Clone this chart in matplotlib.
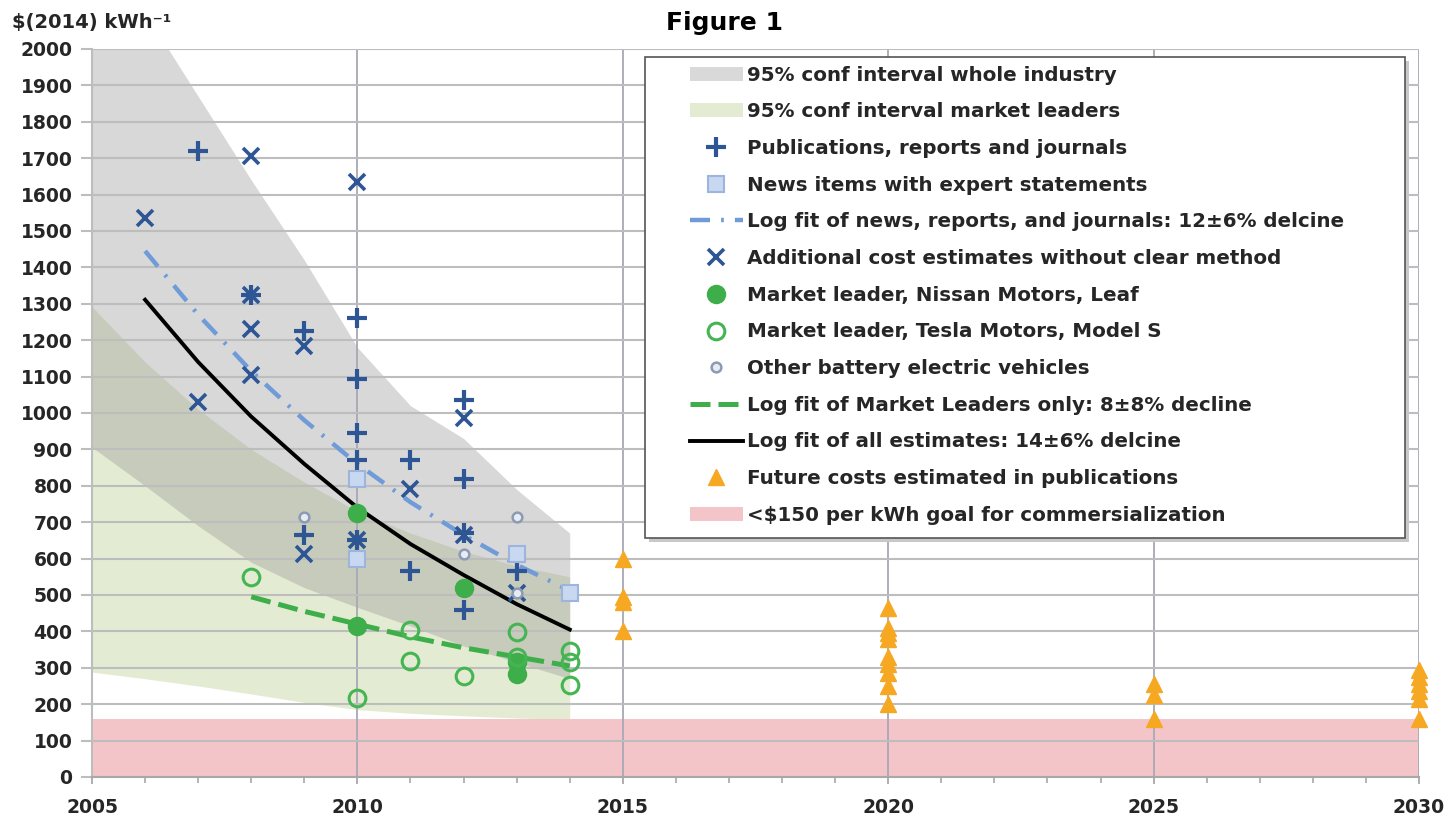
import matplotlib
matplotlib.use("Agg")
import matplotlib.pyplot as plt
import matplotlib.patches as mpatches
from matplotlib.ticker import MultipleLocator

plt.rcParams['font.family'] = ['DejaVu Sans']
plt.rcParams['font.weight'] = 'bold'

# confidence bands
ci_years = [2005, 2006, 2007, 2008, 2009, 2010, 2011, 2012, 2013, 2014]
ind_upper = [2400, 2100, 1870, 1640, 1420, 1180, 1020, 930, 790, 670]
ind_lower = [906, 800, 690, 590, 520, 466, 415, 360, 315, 270]
lead_upper = [1292, 1140, 1010, 900, 810, 730, 670, 620, 580, 550]
lead_lower = [288, 270, 250, 228, 205, 185, 175, 168, 162, 158]

# fitted curves
fit_years = [2006, 2007, 2008, 2009, 2010, 2011, 2012, 2013, 2014]
all_fit = [1311, 1140, 990, 860, 740, 640, 555, 475, 405]
news_fit = [1445, 1270, 1115, 980, 860, 755, 665, 583, 512]
leader_years = [2008, 2009, 2010, 2011, 2012, 2013, 2014]
leader_fit = [495, 455, 420, 385, 355, 330, 305]

# point estimates
pub_x = [2007, 2008, 2009, 2009, 2010, 2010, 2010, 2010, 2010, 2011, 2011, 2012, 2012, 2012, 2012, 2013]
pub_y = [1720, 1325, 1225, 665, 1262, 1093, 945, 870, 650, 870, 567, 1036, 820, 670, 460, 565]
add_x = [2006, 2007, 2008, 2008, 2008, 2008, 2009, 2009, 2010, 2010, 2011, 2012, 2012, 2013]
add_y = [1535, 1030, 1705, 1325, 1230, 1105, 1185, 612, 1635, 650, 790, 985, 665, 505]
news_x = [2010, 2010, 2013, 2014]
news_y = [820, 600, 612, 505]
nissan_x = [2010, 2010, 2012, 2013, 2013]
nissan_y = [725, 416, 518, 315, 282]
tesla_x = [2008, 2010, 2011, 2011, 2012, 2013, 2013, 2014, 2014, 2014]
tesla_y = [550, 218, 405, 318, 278, 398, 330, 345, 315, 252]
other_x = [2009, 2012, 2013, 2013]
other_y = [713, 612, 713, 505]
future_x = [2015, 2015, 2015, 2015,
            2020, 2020, 2020, 2020, 2020, 2020, 2020, 2020, 2020,
            2025, 2025, 2025,
            2030, 2030, 2030, 2030, 2030, 2030]
future_y = [600, 495, 480, 400,
            465, 410, 395, 380, 330, 310, 285, 250, 200,
            255, 225, 160,
            295, 275, 255, 235, 215, 160]
goal = 160

labels = [
    "95% conf interval whole industry",
    "95% conf interval market leaders",
    "Publications, reports and journals",
    "News items with expert statements",
    "Log fit of news, reports, and journals: 12\u00b16% delcine",
    "Additional cost estimates without clear method",
    "Market leader, Nissan Motors, Leaf",
    "Market leader, Tesla Motors, Model S",
    "Other battery electric vehicles",
    "Log fit of Market Leaders only: 8\u00b18% decline",
    "Log fit of all estimates: 14\u00b16% delcine",
    "Future costs estimated in publications",
    "<$150 per kWh goal for commersialization",
]

dark_blue = '#2E5695'
green = '#3DAE4A'
orange = '#F7A823'

fig = plt.figure(figsize=(14.49, 8.19), dpi=100)
ax = fig.add_axes([0.0635, 0.0513, 0.9158, 0.8889])
ax.set_xlim(2005, 2030)
ax.set_ylim(0, 2000)
ax.set_axisbelow(True)

# bands
ax.fill_between(ci_years, lead_lower, lead_upper, color='#E3ECD3', lw=0, zorder=0.2)
ax.fill_between(ci_years, ind_lower, ind_upper, color='#8E8E8E', alpha=0.34, lw=0, zorder=0.25)
ax.axhspan(0, goal, color='#F3C5C9', lw=0, zorder=0.2)

# fits
h_news, = ax.plot(fit_years, news_fit, color='#6F9BD8', lw=3.2, dashes=(4.5, 2.5, 0.6, 2.5), zorder=3)
h_lfit, = ax.plot(leader_years, leader_fit, color=green, lw=3.6, dashes=(4.0, 1.6), zorder=3)
h_all, = ax.plot(fit_years, all_fit, color='black', lw=2.8, zorder=3)

# points
h_pub, = ax.plot(pub_x, pub_y, ls='none', marker='+', ms=15, mew=3, color=dark_blue, zorder=4)
h_add, = ax.plot(add_x, add_y, ls='none', marker='x', ms=11, mew=2.6, color=dark_blue, zorder=4)
h_sq, = ax.plot(news_x, news_y, ls='none', marker='s', ms=12, mfc='#C8D8F0', mec='#9DB5DD', mew=1.5, zorder=4)
h_other, = ax.plot(other_x, other_y, ls='none', marker='o', ms=7, mfc='#E8ECF2', mec='#8C9BB3', mew=1.8, zorder=4)
h_nis, = ax.plot(nissan_x, nissan_y, ls='none', marker='o', ms=13, color=green, mec=green, zorder=5)
h_tes, = ax.plot(tesla_x, tesla_y, ls='none', marker='o', ms=12, mfc='none', mec='#45B553', mew=2.2, zorder=5)
h_fut, = ax.plot(future_x, future_y, ls='none', marker='^', ms=11, color=orange, zorder=5, clip_on=False)

# axes styling
ax.yaxis.set_major_locator(MultipleLocator(100))
ax.xaxis.set_major_locator(MultipleLocator(5))
ax.xaxis.set_minor_locator(MultipleLocator(1))
ax.grid(axis='y', color='#BDBDBD', lw=1.5)
ax.grid(axis='x', which='major', color='#A8A8B4', lw=1.3)
for side in ['top', 'right']:
    ax.spines[side].set_visible(False)
ax.spines['left'].set_color('#BDBDBD')
ax.spines['left'].set_linewidth(1.5)
ax.spines['bottom'].set_color('#A8A8A8')
ax.spines['bottom'].set_linewidth(1.5)
ax.tick_params(axis='y', length=8, width=1.5, color='#BDBDBD', pad=6, labelsize=13.5)
ax.tick_params(axis='x', which='major', length=5, width=1.3, color='#A8A8A8', pad=10, labelsize=13.5)
ax.tick_params(axis='x', which='minor', length=4, width=1.2, color='#A8A8A8')
for lab in ax.get_xticklabels() + ax.get_yticklabels():
    lab.set_fontweight('bold')
    lab.set_color('#262626')

fig.text(0.5, 0.972, "Figure 1", ha='center', va='center', fontsize=18, fontweight='bold')
fig.text(0.008, 0.973, "$(2014) kWh\u207b\u00b9", ha='left', va='center', fontsize=14,
         fontweight='bold', color='#262626')

# legend box drawn by hand so the padding can match
box_x, box_y, box_w, box_h = 0.4167, 0.328, 0.5728, 0.661
shadow = mpatches.Rectangle((box_x + 0.003, box_y - 0.005), box_w, box_h, transform=ax.transAxes,
                            fc='#C8C8C8', ec='none', zorder=8.5, clip_on=False)
frame = mpatches.Rectangle((box_x, box_y), box_w, box_h, transform=ax.transAxes,
                           fc='white', ec='#555555', lw=1.2, zorder=9, clip_on=False)
ax.add_patch(shadow)
ax.add_patch(frame)

p_ind = mpatches.Patch(color='#D9D9D9', lw=0)
p_lead = mpatches.Patch(color='#E3ECD3', lw=0)
p_goal = mpatches.Patch(color='#F3C5C9', lw=0)
handles = [p_ind, p_lead, h_pub, h_sq, h_news, h_add, h_nis, h_tes, h_other, h_lfit, h_all, h_fut, p_goal]
leg = ax.legend(handles, labels, loc='upper left', bbox_to_anchor=(0.4506, 0.977),
                fontsize=14.3, handlelength=2.65, handletextpad=0.2, labelspacing=0.89,
                borderpad=0, borderaxespad=0, frameon=False)
for t in leg.get_texts():
    t.set_fontweight('bold')
    t.set_color('#262626')
leg.set_zorder(10)

fig.savefig('out.png', dpi=100)
